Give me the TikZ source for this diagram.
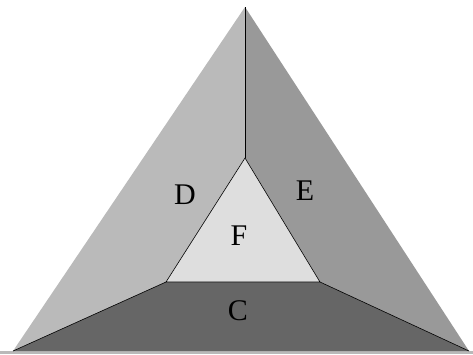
\documentclass[tikz,border=0pt]{standalone}
\usepackage{fontspec}
\setmainfont{Liberation Serif}
\usepackage{tikz}

\tikzset{
  face/.style={draw=black, line width=0.6pt, line join=round},
  lbl/.style={font=\fontsize{30}{32}\selectfont, inner sep=0pt}
}

\begin{document}
\begin{tikzpicture}[x=1pt,y=-1pt]
       \useasboundingbox (0,0) rectangle (473,354);
       \fill[gray!55] (0,351) rectangle (473,354);
       % outer and inner corners
       \coordinate (top) at (245,7);
       \coordinate (bl) at (13,351);
       \coordinate (br) at (469,351);
       \coordinate (itop) at (245,158);
       \coordinate (ibl) at (166,282);
       \coordinate (ibr) at (320,282);

       \fill[black!27] (top) -- (itop) -- (ibl) -- (bl) -- cycle;
       \fill[black!40] (top) -- (br) -- (ibr) -- (itop) -- cycle;
       \fill[black!60] (bl) -- (ibl) -- (ibr) -- (br) -- cycle;
       \fill[black!13] (itop) -- (ibl) -- (ibr) -- cycle;

       \draw[face] (top) -- (itop);
       \draw[face] (bl) -- (ibl);
       \draw[face] (br) -- (ibr);
       \draw[face] (itop) -- (ibl) -- (ibr) -- cycle;

       \node[lbl] (d) at (185,195) {D};
       \node[lbl] (e) at (305,191) {E};
       \node[lbl] (f) at (239,236) {F};
       \node[lbl] (c) at (238,311) {C};
\end{tikzpicture}
\end{document}
